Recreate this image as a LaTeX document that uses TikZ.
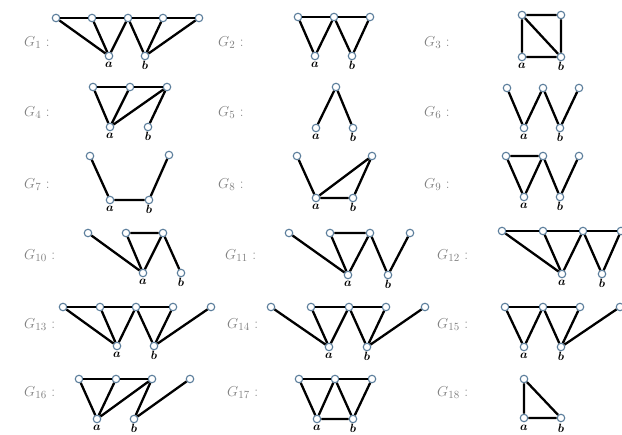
\documentclass[tikz,border=0pt]{standalone}
\usepackage{bm}
\begin{document}
\begin{tikzpicture}[x=1pt,y=-1pt,
  v/.style={circle,draw=vblue,fill=white,line width=1.1pt,inner sep=0pt,minimum size=7.5pt},
  e/.style={line width=2.3pt,black},
  gl/.style={anchor=west,text=gray,font=\fontsize{15}{17}\selectfont,inner sep=0pt},
  vl/.style={inner sep=0pt,font=\fontsize{11.5}{13}\selectfont}]
\definecolor{vblue}{RGB}{90,125,155}
\useasboundingbox (0,0) rectangle (622,435);
\newcommand{\glab}[4]{\node[gl] (#1) at (#2,#3) {$G_{#4}$ :};}
\newcommand{\ab}[5]{\node[v] (#1a) at (#2,#4) {};\node[v] (#1b) at (#3,#4) {};
  \node[vl] (#1la) at (#2,#5) {$\bm{a}$};\node[vl] (#1lb) at (#3,#5) {$\bm{b}$};}
% ---------- Row 1
\glab{L1}{24}{43}{1}
\foreach \i/\x in {1/56,2/92,3/128,4/163,5/199} \node[v] (g1t\i) at (\x,18) {};
\ab{g1}{109}{145}{56}{65}
\glab{L2}{218}{43}{2}
\foreach \i/\x in {1/298,2/334,3/370} \node[v] (g2t\i) at (\x,17) {};
\ab{g2}{315}{352}{56}{65}
\glab{L3}{424}{43}{3}
\node[v] (g3t1) at (522,15) {};\node[v] (g3t2) at (561,15) {};
\ab{g3}{522}{561}{57}{66}
% ---------- Row 2
\glab{L4}{24}{113}{4}
\foreach \i/\x in {1/93,2/130,3/167} \node[v] (g4t\i) at (\x,87) {};
\ab{g4}{110}{148}{127}{136}
\glab{L5}{218}{113}{5}
\node[v] (g5t1) at (336,87) {};
\ab{g5}{316}{353}{128}{137}
\glab{L6}{424}{113}{6}
\foreach \i/\x in {1/507,2/543,3/579} \node[v] (g6t\i) at (\x,88) {};
\ab{g6}{524}{560}{128}{137}
% ---------- Row 3
\glab{L7}{24}{185}{7}
\node[v] (g7t1) at (90,156) {};\node[v] (g7t2) at (169,155) {};
\ab{g7}{110}{149}{200}{209}
\glab{L8}{218}{185}{8}
\node[v] (g8t1) at (297,156) {};\node[v] (g8t2) at (372,156) {};
\ab{g8}{316}{353}{198}{207}
\glab{L9}{424}{185}{9}
\foreach \i/\x in {1/506,2/543,3/579} \node[v] (g9t\i) at (\x,156) {};
\ab{g9}{524}{560}{197}{206}
% ---------- Row 4
\glab{L10}{24}{256}{10}
\foreach \i/\x in {1/88,2/126,3/163} \node[v] (g10t\i) at (\x,233) {};
\ab{g10}{143}{181}{273}{282}
\glab{L11}{225}{256}{11}
\foreach \i/\x in {1/289,2/330,3/370,4/410} \node[v] (g11t\i) at (\x,233) {};
\ab{g11}{348}{388}{275}{284}
\glab{L12}{437}{256}{12}
\foreach \i/\x in {1/502,2/543,3/583,4/621} \node[v] (g12t\i) at (\x,231) {};
\ab{g12}{562}{602}{274}{283}
% ---------- Row 5
\glab{L13}{24}{325}{13}
\foreach \i/\x in {1/63,2/100,3/136,4/173,5/211} \node[v] (g13t\i) at (\x,307) {};
\ab{g13}{117}{154}{346}{355}
\glab{L14}{227}{325}{14}
\foreach \i/\x in {1/271,2/311,3/349,4/386,5/425} \node[v] (g14t\i) at (\x,307) {};
\ab{g14}{329}{367}{347}{356}
\glab{L15}{437}{325}{15}
\foreach \i/\x in {1/505,2/543,3/580,4/620} \node[v] (g15t\i) at (\x,307) {};
\ab{g15}{524}{561}{347}{356}
% ---------- Row 6
\glab{L16}{24}{393}{16}
\foreach \i/\x in {1/79,2/116,3/152,4/190} \node[v] (g16t\i) at (\x,379) {};
\ab{g16}{97}{134}{419}{428}
\glab{L17}{227}{393}{17}
\foreach \i/\x in {1/299,2/335,3/372} \node[v] (g17t\i) at (\x,379) {};
\ab{g17}{317}{353}{419}{428}
\glab{L18}{437}{393}{18}
\node[v] (g18t1) at (524,379) {};
\ab{g18}{524}{561}{418}{428}
% ---------- Edges
\draw[e] (g1t1)--(g1t2)--(g1t3)--(g1t4)--(g1t5);
\draw[e] (g1t1)--(g1a) (g1t2)--(g1a) (g1t3)--(g1a) (g1t3)--(g1b) (g1t4)--(g1b) (g1t5)--(g1b);
\draw[e] (g2t1)--(g2t2)--(g2t3);
\draw[e] (g2t1)--(g2a)--(g2t2)--(g2b)--(g2t3);
\draw[e] (g3t1)--(g3t2)--(g3b)--(g3a)--(g3t1)--(g3b);
\draw[e] (g4t1)--(g4t2)--(g4t3);
\draw[e] (g4t1)--(g4a)--(g4t2) (g4a)--(g4t3)--(g4b);
\draw[e] (g5a)--(g5t1)--(g5b);
\draw[e] (g6t1)--(g6a)--(g6t2)--(g6b)--(g6t3);
\draw[e] (g7t1)--(g7a)--(g7b)--(g7t2);
\draw[e] (g8t1)--(g8a)--(g8b)--(g8t2)--(g8a);
\draw[e] (g9t2)--(g9t1)--(g9a)--(g9t2)--(g9b)--(g9t3);
\draw[e] (g10t1)--(g10a)--(g10t2)--(g10t3)--(g10a) (g10t3)--(g10b);
\draw[e] (g11t1)--(g11a)--(g11t2)--(g11t3)--(g11a) (g11t3)--(g11b)--(g11t4);
\draw[e] (g12t1)--(g12t2)--(g12t3)--(g12t4);
\draw[e] (g12t1)--(g12a)--(g12t2) (g12t3)--(g12a) (g12t3)--(g12b)--(g12t4);
\draw[e] (g13t1)--(g13t2)--(g13t3)--(g13t4);
\draw[e] (g13t1)--(g13a)--(g13t2) (g13t3)--(g13a) (g13t3)--(g13b)--(g13t4) (g13b)--(g13t5);
\draw[e] (g14t2)--(g14t3)--(g14t4);
\draw[e] (g14t1)--(g14a)--(g14t2) (g14t3)--(g14a) (g14t3)--(g14b)--(g14t4) (g14b)--(g14t5);
\draw[e] (g15t1)--(g15t2)--(g15t3);
\draw[e] (g15t1)--(g15a)--(g15t2)--(g15b)--(g15t3) (g15b)--(g15t4);
\draw[e] (g16t1)--(g16t2)--(g16t3);
\draw[e] (g16t1)--(g16a)--(g16t2) (g16t3)--(g16a) (g16t3)--(g16b)--(g16t4);
\draw[e] (g17t1)--(g17t2)--(g17t3);
\draw[e] (g17t1)--(g17a)--(g17t2)--(g17b)--(g17t3) (g17a)--(g17b);
\draw[e] (g18t1)--(g18a)--(g18b)--(g18t1);
\end{tikzpicture}
\end{document}
